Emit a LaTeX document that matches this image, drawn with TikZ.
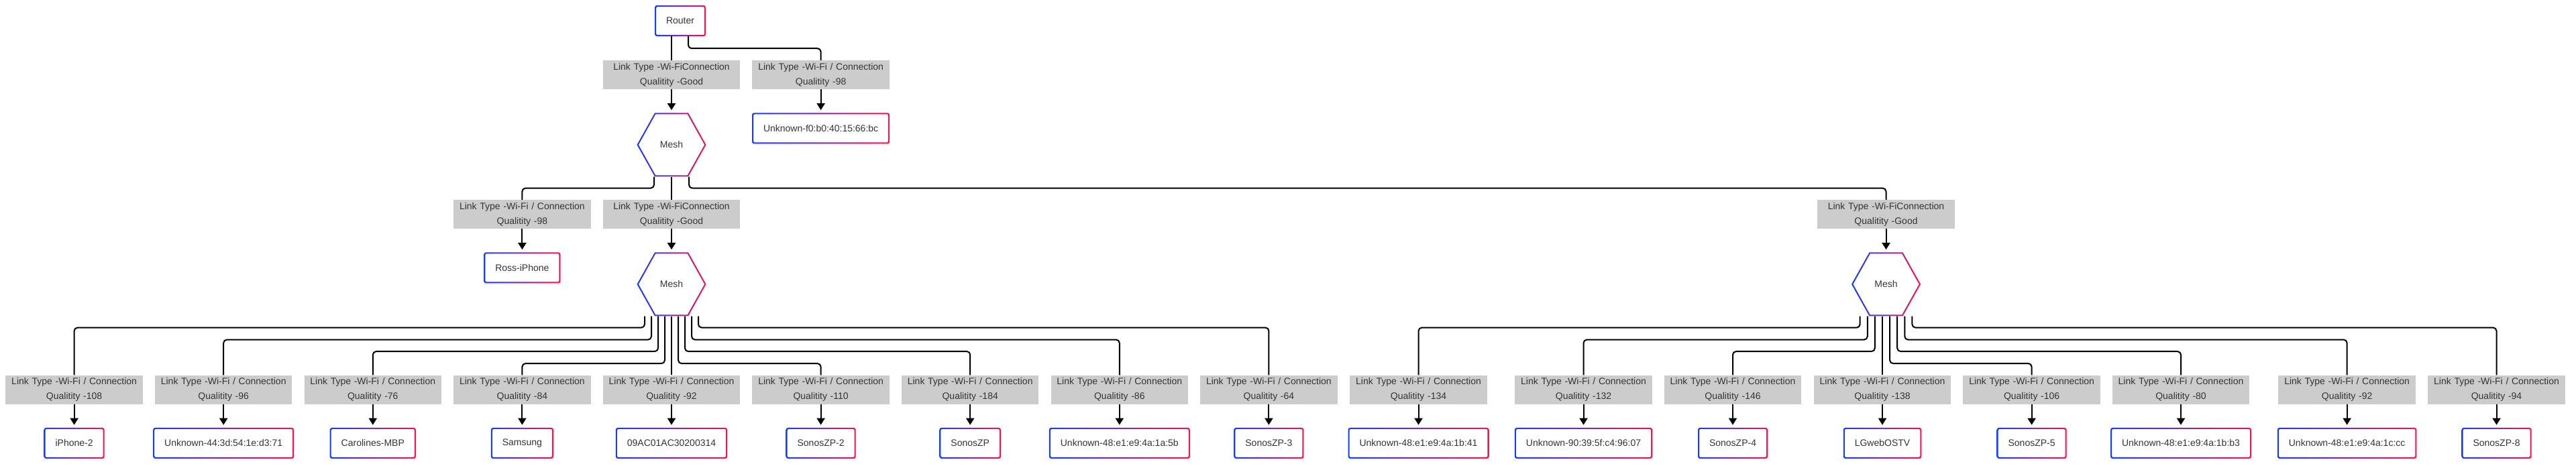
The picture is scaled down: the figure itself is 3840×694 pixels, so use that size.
\documentclass[tikz,border=0pt]{standalone}
\usepackage{fontspec}
\setmainfont{Liberation Sans}
\usetikzlibrary{arrows.meta, positioning, shadows, calc}
\definecolor{cblue}{RGB}{20,60,255}
\definecolor{cred}{RGB}{245,20,80}
\definecolor{lblgray}{RGB}{204,204,204}
\definecolor{txtgray}{RGB}{51,51,51}
\newcommand{\wifi}[1]{Link Type -Wi-Fi / Connection\\Qualitity #1}
\newcommand{\wifigood}{Link Type -Wi-FiConnection\\Qualitity -Good}
% blue to red outline of a mesh hexagon
\newcommand{\hexring}[1]{\shade[left color=cblue, right color=cred, even odd rule]
  ($(#1)+(-51.5,0)$) -- ($(#1)+(-25,47.5)$) -- ($(#1)+(25,47.5)$) -- ($(#1)+(51.5,0)$)
  -- ($(#1)+(25,-47.5)$) -- ($(#1)+(-25,-47.5)$) -- cycle
  ($(#1)+(-49.2,0)$) -- ($(#1)+(-23.8,45.5)$) -- ($(#1)+(23.8,45.5)$) -- ($(#1)+(49.2,0)$)
  -- ($(#1)+(23.8,-45.5)$) -- ($(#1)+(-23.8,-45.5)$) -- cycle;}

\begin{document}
\begin{tikzpicture}[x=1pt, y=-1pt, node distance=35pt, font=\fontsize{14}{22}\selectfont, text=txtgray,
    devbox/.style={fill=white, rounded corners=3pt, inner xsep=17pt, inner ysep=0pt, minimum height=46pt,
      drop shadow={opacity=0.12, shadow xshift=1pt, shadow yshift=-2pt},
      path picture={\shade[left color=cblue, right color=cred, even odd rule]
        (path picture bounding box.south west) rectangle (path picture bounding box.north east)
        ([shift={(2pt,2pt)}]path picture bounding box.south west) [rounded corners=1.5pt]
        rectangle ([shift={(-2pt,-2pt)}]path picture bounding box.north east);}},
    meshhex/.style={minimum width=104pt, minimum height=95pt, inner sep=0pt},
    linklbl/.style={fill=lblgray, text width=194pt, align=center, inner xsep=5.25pt, inner ysep=0pt, minimum height=43pt},
    wire/.style={line width=2pt, rounded corners=5pt},
    wirearr/.style={line width=2pt, -{Triangle[length=10pt, width=12pt]}, shorten >=4pt}]
  \useasboundingbox (0,0) rectangle (3840,694);

  % router and first mesh
  \node[devbox] (router) at (1014,31) {Router};
  \node[linklbl] (lr1) at (1001,111.5) {\wifigood};
  \node[linklbl] (lr2) at (1223.6,111.5) {\wifi{-98}};
  \node[meshhex, below=of lr1] (mesh1) {Mesh};
  \node[devbox, below=of lr2] (unkf0) {Unknown-f0:b0:40:15:66:bc};

  % second level
  \node[linklbl] (lm1) at (778.4,319.5) {\wifi{-98}};
  \node[linklbl] (lm2) at (1001,319.5) {\wifigood};
  \node[linklbl] (lm3) at (2811.5,319.5) {\wifigood};
  \node[devbox, below=of lm1] (ross) {Ross-iPhone};
  \node[meshhex, below=of lm2] (mesh2) {Mesh};
  \node[meshhex, below=of lm3] (mesh3) {Mesh};

  % devices on mesh2
  \node[linklbl] (la1) at (110.6,581) {\wifi{-108}};
  \node[linklbl] (la2) at (333.2,581) {\wifi{-96}};
  \node[linklbl] (la3) at (555.8,581) {\wifi{-76}};
  \node[linklbl] (la4) at (778.4,581) {\wifi{-84}};
  \node[linklbl] (la5) at (1001,581) {\wifi{-92}};
  \node[linklbl] (la6) at (1223.6,581) {\wifi{-110}};
  \node[linklbl] (la7) at (1446.2,581) {\wifi{-184}};
  \node[linklbl] (la8) at (1668.8,581) {\wifi{-86}};
  \node[linklbl] (la9) at (1891.4,581) {\wifi{-64}};
  \node[devbox, below=of la1] (da1) {iPhone-2};
  \node[devbox, below=of la2] (da2) {Unknown-44:3d:54:1e:d3:71};
  \node[devbox, below=of la3] (da3) {Carolines-MBP};
  \node[devbox, below=of la4] (da4) {Samsung};
  \node[devbox, below=of la5] (da5) {09AC01AC30200314};
  \node[devbox, below=of la6] (da6) {SonosZP-2};
  \node[devbox, below=of la7] (da7) {SonosZP};
  \node[devbox, below=of la8] (da8) {Unknown-48:e1:e9:4a:1a:5b};
  \node[devbox, below=of la9] (da9) {SonosZP-3};

  % devices on mesh3
  \node[linklbl] (lb1) at (2114.5,581) {\wifi{-134}};
  \node[linklbl] (lb2) at (2360.5,581) {\wifi{-132}};
  \node[linklbl] (lb3) at (2583,581) {\wifi{-146}};
  \node[linklbl] (lb4) at (2806,581) {\wifi{-138}};
  \node[linklbl] (lb5) at (3028.6,581) {\wifi{-106}};
  \node[linklbl] (lb6) at (3251,581) {\wifi{-80}};
  \node[linklbl] (lb7) at (3498.6,581) {\wifi{-92}};
  \node[linklbl] (lb8) at (3721.5,581) {\wifi{-94}};
  \node[devbox, below=of lb1] (db1) {Unknown-48:e1:e9:4a:1b:41};
  \node[devbox, below=of lb2] (db2) {Unknown-90:39:5f:c4:96:07};
  \node[devbox, below=of lb3] (db3) {SonosZP-4};
  \node[devbox, below=of lb4] (db4) {LGwebOSTV};
  \node[devbox, below=of lb5] (db5) {SonosZP-5};
  \node[devbox, below=of lb6] (db6) {Unknown-48:e1:e9:4a:1b:b3};
  \node[devbox, below=of lb7] (db7) {Unknown-48:e1:e9:4a:1c:cc};
  \node[devbox, below=of lb8] (db8) {SonosZP-8};

  \hexring{mesh1}
  \hexring{mesh2}
  \hexring{mesh3}

  % links
  \draw[wire] (lr1.north |- router.south) -- (lr1.north);
  \draw[wire] ([xshift=12pt]router.south) -- ++(0,18) -| (lr2.north);
  \draw[wire] ([xshift=-26pt]mesh1.south) -- ++(0,17) -| (lm1.north);
  \draw[wire] (mesh1.south) -- (lm2.north);
  \draw[wire] ([xshift=26pt]mesh1.south) -- ++(0,17) -| (lm3.north);

  \draw[wire] ([xshift=-40pt]mesh2.south) -- ++(0,17) -| (la1.north);
  \draw[wire] ([xshift=-30pt]mesh2.south) -- ++(0,35) -| (la2.north);
  \draw[wire] ([xshift=-20pt]mesh2.south) -- ++(0,52.5) -| (la3.north);
  \draw[wire] ([xshift=-10pt]mesh2.south) -- ++(0,70.5) -| (la4.north);
  \draw[wire] (mesh2.south) -- (la5.north);
  \draw[wire] ([xshift=10pt]mesh2.south) -- ++(0,70.5) -| (la6.north);
  \draw[wire] ([xshift=20pt]mesh2.south) -- ++(0,52.5) -| (la7.north);
  \draw[wire] ([xshift=30pt]mesh2.south) -- ++(0,35) -| (la8.north);
  \draw[wire] ([xshift=40pt]mesh2.south) -- ++(0,17) -| (la9.north);

  \draw[wire] ([xshift=-38.85pt]mesh3.south) -- ++(0,17) -| (lb1.north);
  \draw[wire] ([xshift=-27.75pt]mesh3.south) -- ++(0,35) -| (lb2.north);
  \draw[wire] ([xshift=-16.65pt]mesh3.south) -- ++(0,52.5) -| (lb3.north);
  \draw[wire] (lb4.north |- mesh3.south) -- (lb4.north);
  \draw[wire] ([xshift=5.55pt]mesh3.south) -- ++(0,70.5) -| (lb5.north);
  \draw[wire] ([xshift=16.65pt]mesh3.south) -- ++(0,52.5) -| (lb6.north);
  \draw[wire] ([xshift=27.75pt]mesh3.south) -- ++(0,35) -| (lb7.north);
  \draw[wire] ([xshift=38.85pt]mesh3.south) -- ++(0,17) -| (lb8.north);

  % arrows into the children
  \draw[wirearr] (lr1) -- (mesh1);
  \draw[wirearr] (lr2) -- (unkf0);
  \draw[wirearr] (lm1) -- (ross);
  \draw[wirearr] (lm2) -- (mesh2);
  \draw[wirearr] (lm3) -- (mesh3);
  \draw[wirearr] (la1) -- (da1);
  \draw[wirearr] (la2) -- (da2);
  \draw[wirearr] (la3) -- (da3);
  \draw[wirearr] (la4) -- (da4);
  \draw[wirearr] (la5) -- (da5);
  \draw[wirearr] (la6) -- (da6);
  \draw[wirearr] (la7) -- (da7);
  \draw[wirearr] (la8) -- (da8);
  \draw[wirearr] (la9) -- (da9);
  \draw[wirearr] (lb1) -- (db1);
  \draw[wirearr] (lb2) -- (db2);
  \draw[wirearr] (lb3) -- (db3);
  \draw[wirearr] (lb4) -- (db4);
  \draw[wirearr] (lb5) -- (db5);
  \draw[wirearr] (lb6) -- (db6);
  \draw[wirearr] (lb7) -- (db7);
  \draw[wirearr] (lb8) -- (db8);
\end{tikzpicture}
\end{document}
